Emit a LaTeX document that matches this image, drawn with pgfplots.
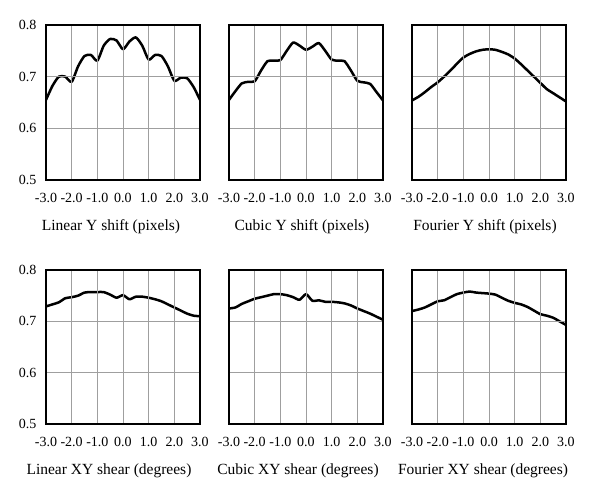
\documentclass[border=0pt]{standalone}
\usepackage{fontspec}
\setmainfont{Liberation Serif}
\usepackage{pgfplots}
\pgfplotsset{compat=1.18}
\usepackage{pgfplotstable}

\pgfplotstableread{
x     lin   cub   fou
-3.00 0.655 0.655 0.654
-2.75 0.682 0.672 0.661
-2.50 0.700 0.687 0.670
-2.25 0.700 0.690 0.680
-2.00 0.690 0.691 0.689
-1.75 0.720 0.712 0.700
-1.50 0.740 0.730 0.712
-1.25 0.742 0.731 0.725
-1.00 0.731 0.732 0.737
-0.75 0.760 0.750 0.744
-0.50 0.773 0.766 0.749
-0.25 0.770 0.760 0.752
 0.00 0.753 0.752 0.753
 0.25 0.768 0.758 0.752
 0.50 0.776 0.765 0.748
 0.75 0.760 0.750 0.743
 1.00 0.733 0.733 0.735
 1.25 0.742 0.731 0.724
 1.50 0.740 0.730 0.712
 1.75 0.720 0.712 0.700
 2.00 0.692 0.692 0.688
 2.25 0.698 0.689 0.676
 2.50 0.697 0.686 0.668
 2.75 0.680 0.670 0.660
 3.00 0.655 0.654 0.652
}\shifttab

\pgfplotstableread{
x     lin   cub   fou
-3.00 0.729 0.725 0.720
-2.75 0.733 0.727 0.723
-2.50 0.737 0.734 0.727
-2.25 0.745 0.739 0.733
-2.00 0.747 0.744 0.739
-1.75 0.750 0.747 0.741
-1.50 0.756 0.750 0.747
-1.25 0.757 0.753 0.753
-1.00 0.757 0.753 0.756
-0.75 0.757 0.751 0.758
-0.50 0.752 0.747 0.756
-0.25 0.746 0.742 0.755
 0.00 0.751 0.753 0.754
 0.25 0.743 0.740 0.752
 0.50 0.748 0.741 0.746
 0.75 0.748 0.738 0.740
 1.00 0.746 0.738 0.736
 1.25 0.743 0.737 0.733
 1.50 0.739 0.735 0.728
 1.75 0.733 0.731 0.721
 2.00 0.727 0.725 0.714
 2.25 0.721 0.720 0.711
 2.50 0.715 0.715 0.707
 2.75 0.711 0.709 0.700
 3.00 0.710 0.703 0.693
}\sheartab

\pgfplotsset{
  panel/.style={
    scale only axis, width=154bp,
    xmin=-3, xmax=3, ymin=0.5, ymax=0.8,
    xtick={-3,-2,-1,0,1,2,3},
    xticklabels={-3.0,-2.0,-1.0,0.0,1.0,2.0,3.0},
    ytick={0.5,0.6,0.7,0.8},
    yticklabels={0.5,0.6,0.7,0.8},
    /pgf/number format/assume math mode=true,
    grid=major,
    major grid style={gray!75, line width=0.9bp},
    axis line style={black, line width=1.6bp},
    major tick length=0pt,
    axis on top,
    tick label style={font=\fontsize{14bp}{16bp}\selectfont},
    xticklabel style={yshift=-10bp},
    yticklabel style={xshift=-6bp},
    label style={font=\fontsize{15.5bp}{17bp}\selectfont},
    xlabel style={at={(axis description cs:0.5,0)}, anchor=center, yshift=-47bp},
  },
  noy/.style={yticklabels={}},
  curve/.style={black, line width=2.5bp, line join=round, smooth, tension=0.4, mark=none},
}

\begin{document}
\begin{tikzpicture}
\useasboundingbox (0,0) rectangle (600bp,502bp);
% Row 1
\begin{axis}[panel, height=155bp, at={(46bp,477bp)}, anchor=north west,
  xlabel={Linear Y shift (pixels)}, xlabel style={xshift=-12bp}]
  \addplot[curve] table[x=x,y=lin] {\shifttab};
\end{axis}
\begin{axis}[panel, noy, height=155bp, at={(229bp,477bp)}, anchor=north west,
  xlabel={Cubic Y shift (pixels)}, xlabel style={xshift=-4bp}]
  \addplot[curve] table[x=x,y=cub] {\shifttab};
\end{axis}
\begin{axis}[panel, noy, height=155bp, at={(412bp,477bp)}, anchor=north west,
  xlabel={Fourier Y shift (pixels)}, xlabel style={xshift=-4bp}]
  \addplot[curve] table[x=x,y=fou] {\shifttab};
\end{axis}
% Row 2
\begin{axis}[panel, height=154bp, at={(46bp,232bp)}, anchor=north west,
  xlabel={Linear XY shear (degrees)}, xlabel style={xshift=-14bp}]
  \addplot[curve] table[x=x,y=lin] {\sheartab};
\end{axis}
\begin{axis}[panel, noy, height=154bp, at={(229bp,232bp)}, anchor=north west,
  xlabel={Cubic XY shear (degrees)}, xlabel style={xshift=-8bp}]
  \addplot[curve] table[x=x,y=cub] {\sheartab};
\end{axis}
\begin{axis}[panel, noy, height=154bp, at={(412bp,232bp)}, anchor=north west,
  xlabel={Fourier XY shear (degrees)}, xlabel style={xshift=-6bp}]
  \addplot[curve] table[x=x,y=fou] {\sheartab};
\end{axis}
\end{tikzpicture}
\end{document}
